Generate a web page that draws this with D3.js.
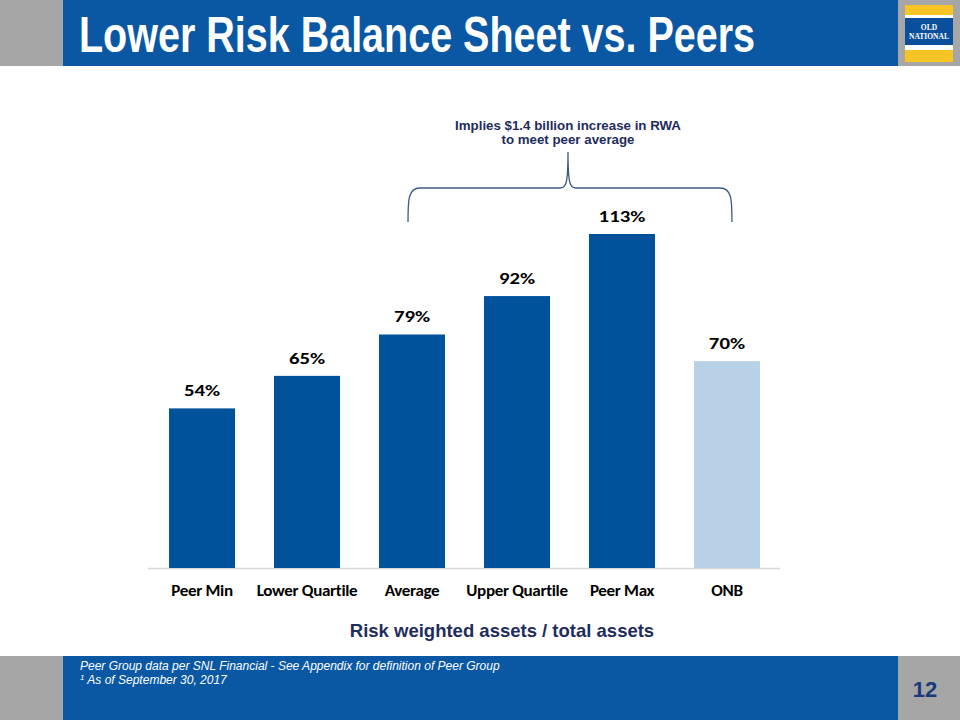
<!DOCTYPE html>
<html><head><meta charset="utf-8">
<script src="https://cdn.jsdelivr.net/npm/d3@7"></script>
<style>body{margin:0;background:#fff}svg{display:block}</style>
</head><body><svg id="c" width="960" height="720"></svg>
<script>
const categories = ["Peer Min","Lower Quartile","Average","Upper Quartile","Peer Max","ONB"];
const values = [54,65,79,92,113,70];
const valueLabels = ["54%","65%","79%","92%","113%","70%"];
const barColors = ["#00529B","#00529B","#00529B","#00529B","#00529B","#B9D1E6"];
const titleText = "Lower Risk Balance Sheet vs. Peers";
const axisTitle = "Risk weighted assets / total assets";
const noteLines = ["Implies $1.4 billion increase in RWA","to meet peer average"];
const footLines = ["Peer Group data per SNL Financial - See Appendix for definition of Peer Group","As of September 30, 2017"];
const pageNum = "12";

const svg = d3.select("#c");
// header
svg.append("rect").attr("x",0).attr("y",0).attr("width",960).attr("height",66).attr("fill","#A6A6A6");
svg.append("rect").attr("x",63).attr("y",0).attr("width",835).attr("height",66).attr("fill","#0A58A4");
svg.append("g").attr("transform","translate(79,52) scale(0.79,1)")
  .append("text").attr("x",0).attr("y",0).text(titleText)
  .attr("fill","#fff").attr("font-family","'Liberation Sans',Arial,sans-serif")
  .attr("font-weight","bold").attr("font-size",50);
// logo
const lg = svg.append("g");
lg.append("rect").attr("x",905).attr("y",5).attr("width",48).attr("height",57).attr("fill","#F7C325");
lg.append("rect").attr("x",905).attr("y",15).attr("width",48).attr("height",35).attr("fill","#fff");
lg.append("rect").attr("x",905).attr("y",18).attr("width",48).attr("height",27).attr("fill","#0A4F9C");
lg.append("text").attr("x",929).attr("y",30).attr("text-anchor","middle").text("OLD")
  .attr("fill","#fff").attr("font-family","'Liberation Serif',serif").attr("font-weight","bold").attr("font-size",7.5);
lg.append("text").attr("x",929).attr("y",38.5).attr("text-anchor","middle").text("NATIONAL")
  .attr("fill","#fff").attr("font-family","'Liberation Serif',serif").attr("font-weight","bold").attr("font-size",7.5);

// footer
svg.append("rect").attr("x",0).attr("y",656).attr("width",960).attr("height",64).attr("fill","#A6A6A6");
svg.append("rect").attr("x",63).attr("y",656).attr("width",835).attr("height",64).attr("fill","#0A58A4");
const ff = "'Liberation Sans',Arial,sans-serif";
svg.append("text").attr("x",80).attr("y",670).text(footLines[0])
  .attr("fill","#fff").attr("font-family",ff).attr("font-style","italic").attr("font-size",12);
const f2 = svg.append("text").attr("x",80).attr("y",684)
  .attr("fill","#fff").attr("font-family",ff).attr("font-style","italic").attr("font-size",12);
f2.append("tspan").text("1").attr("font-size",8).attr("dy",-4);
f2.append("tspan").text(" "+footLines[1]).attr("dy",4);
svg.append("text").attr("x",925).attr("y",697).attr("text-anchor","middle").text(pageNum)
  .attr("fill","#1B3A7A").attr("font-family",ff).attr("font-weight","bold").attr("font-size",22);

// chart
const baseline = 568;
const x = d3.scaleBand().domain(categories).range([149.5,779.5]).paddingInner(0.371).paddingOuter(0.186);
const y = d3.scaleLinear().domain([0,113]).range([baseline, baseline-334]);

svg.append("line").attr("x1",148).attr("x2",780).attr("y1",baseline+0.5).attr("y2",baseline+0.5)
  .attr("stroke","#D9D9D9").attr("stroke-width",1.5);

svg.selectAll("rect.bar").data(values).join("rect").attr("class","bar")
  .attr("x",(d,i)=>x(categories[i])).attr("width",x.bandwidth())
  .attr("y",d=>y(d)).attr("height",d=>baseline-y(d)).attr("fill",(d,i)=>barColors[i]);

const lf = "Carlito,Lato,'Open Sans','Liberation Sans',sans-serif";
svg.selectAll("g.val").data(values).join("g").attr("class","val")
  .attr("transform",(d,i)=>`translate(${x(categories[i])+x.bandwidth()/2},${y(d)-12}) scale(1.3,1)`)
  .append("text").attr("text-anchor","middle").text((d,i)=>valueLabels[i])
  .attr("font-family",lf).attr("font-weight","bold").attr("font-size",16).attr("fill","#000");

const xa = svg.append("g").attr("transform",`translate(0,${baseline})`)
  .call(d3.axisBottom(x).tickSize(0).tickPadding(17));
xa.select(".domain").remove();
xa.selectAll(".tick text").attr("font-family",lf).attr("font-weight","bold").attr("font-size",15.5).attr("fill","#000")
  .attr("letter-spacing",-0.3).attr("transform","scale(1.1,1)");

svg.append("text").attr("x",502).attr("y",637).attr("text-anchor","middle").text(axisTitle)
  .attr("fill","#1F2D5C").attr("font-family",ff).attr("font-weight","bold").attr("font-size",18.5);

// annotation
noteLines.forEach((t,i)=>{
  svg.append("text").attr("x",568).attr("y",130+i*14).attr("text-anchor","middle").text(t)
    .attr("fill","#1F2D5C").attr("font-family",ff).attr("font-weight","bold").attr("font-size",13.3);
});
const L = x("Average") + x.bandwidth()/2 - 4, R = x("ONB") + x.bandwidth()/2 + 5, M = 568, T = 188;
const p = d3.path();
p.moveTo(L,222); p.bezierCurveTo(L,200,L,T,L+12,T);
p.lineTo(M-8,T); p.bezierCurveTo(M-2,T,M,T-4,M,152);
p.moveTo(M,152); p.bezierCurveTo(M,T-4,M+2,T,M+8,T);
p.lineTo(R-12,T); p.bezierCurveTo(R,T,R,200,R,222);
svg.append("path").attr("d",p.toString()).attr("fill","none").attr("stroke","#3E5A80").attr("stroke-width",1.3);
</script></body></html>
